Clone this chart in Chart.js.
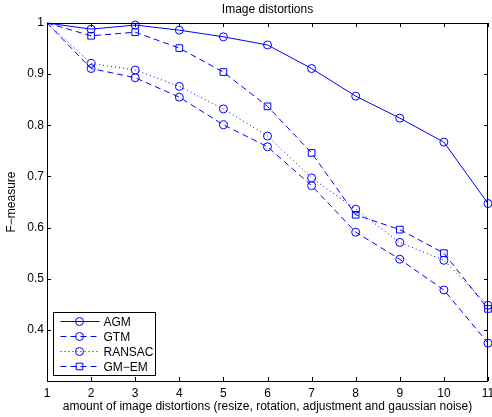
<!DOCTYPE html>
<html><head><meta charset="utf-8">
<script src="https://cdn.jsdelivr.net/npm/chart.js@4.4.1/dist/chart.umd.min.js"></script>
<style>html,body{margin:0;padding:0;background:#fff}</style>
</head><body>
<canvas id="c" width="492" height="417"></canvas>
<script>
const distortions = [1, 2, 3, 4, 5, 6, 7, 8, 9, 10, 11];
const agm    = [1.0, 0.988, 0.996, 0.986, 0.973, 0.957, 0.911, 0.857, 0.814, 0.767, 0.647];
const gtm    = [1.0, 0.911, 0.893, 0.855, 0.801, 0.758, 0.682, 0.591, 0.538, 0.478, 0.374];
const ransac = [1.0, 0.921, 0.908, 0.876, 0.832, 0.779, 0.697, 0.636, 0.571, 0.536, 0.448];
const gmem   = [1.0, 0.975, 0.982, 0.951, 0.904, 0.837, 0.746, 0.625, 0.596, 0.550, 0.441];
const seriesNames = ['AGM', 'GTM', 'RANSAC', 'GM\u2212EM'];
const xTickValues = [1, 2, 3, 4, 5, 6, 7, 8, 9, 10, 11];
const yTickValues = [0.4, 0.5, 0.6, 0.7, 0.8, 0.9, 1];
const yTickLabels = ['0.4', '0.5', '0.6', '0.7', '0.8', '0.9', '1'];
const titleText = 'Image distortions';
const xTitle = 'amount of image distortions (resize, rotation, adjustment and gaussian noise)';
const yTitle = 'F\u2212measure';

const FONT = '"Liberation Sans", Arial, Helvetica, sans-serif';
const BLUE = 'rgb(0,0,255)';

function mk(label, values, dash, style, r) {
  return {
    label: label,
    data: distortions.map((x, i) => ({x: x, y: values[i]})),
    borderColor: BLUE, borderWidth: 1, borderDash: dash,
    pointStyle: style, pointRadius: distortions.map((d, i) => i === 0 ? 0 : r),
    pointBorderColor: BLUE, pointBackgroundColor: 'rgba(0,0,0,0)', pointBorderWidth: 1,
    tension: 0, fill: false, clip: false
  };
}
const datasets = [
  mk(seriesNames[0], agm, [], 'circle', 4),
  mk(seriesNames[1], gtm, [6, 4], 'circle', 4),
  mk(seriesNames[2], ransac, [1, 3], 'circle', 4),
  mk(seriesNames[3], gmem, [6, 4], 'rect', 4.7)
];

const decor = {
  id: 'decor',
  afterDraw(chart) {
    const ctx = chart.ctx, a = chart.chartArea;
    const xs = chart.scales.x, ys = chart.scales.y;
    ctx.save();
    ctx.strokeStyle = '#000'; ctx.lineWidth = 1;
    ctx.strokeRect(Math.round(a.left) + 0.5, Math.round(a.top) + 0.5,
                   Math.round(a.right - a.left) - 1, Math.round(a.bottom - a.top));
    ctx.beginPath();
    xTickValues.forEach(v => {
      const px = Math.round(xs.getPixelForValue(v)) + 0.5;
      ctx.moveTo(px, a.bottom); ctx.lineTo(px, a.bottom - 4);
      ctx.moveTo(px, a.top); ctx.lineTo(px, a.top + 4);
    });
    yTickValues.forEach(v => {
      const py = Math.round(ys.getPixelForValue(v)) + 0.5;
      ctx.moveTo(a.left, py); ctx.lineTo(a.left + 4, py);
      ctx.moveTo(a.right, py); ctx.lineTo(a.right - 4, py);
    });
    ctx.stroke();

    ctx.fillStyle = '#000';
    ctx.font = '12px ' + FONT;
    ctx.textAlign = 'center'; ctx.textBaseline = 'middle';
    ctx.fillText(titleText, (a.left + a.right) / 2, 10);
    ctx.fillText(xTitle, (a.left + a.right) / 2, 407);
    ctx.save();
    ctx.translate(12, (a.top + a.bottom) / 2);
    ctx.rotate(-Math.PI / 2);
    ctx.fillText(yTitle, 0, 0);
    ctx.restore();

    const bx = a.left + 6.5, by = 312.5, bw = 102, bh = 63;
    ctx.fillStyle = '#fff';
    ctx.fillRect(bx, by, bw, bh);
    ctx.strokeStyle = '#000';
    ctx.strokeRect(bx, by, bw, bh);
    ctx.font = '12px ' + FONT;
    ctx.textAlign = 'left';
    chart.data.datasets.forEach((ds, i) => {
      const y = by + 9 + i * 15;
      ctx.strokeStyle = ds.borderColor; ctx.lineWidth = 1;
      ctx.setLineDash(ds.borderDash);
      ctx.beginPath(); ctx.moveTo(bx + 7, y); ctx.lineTo(bx + 46, y); ctx.stroke();
      ctx.setLineDash([]);
      ctx.fillStyle = 'rgba(0,0,0,0)';
      ctx.strokeStyle = ds.borderColor;
      Chart.helpers.drawPoint(ctx, {pointStyle: ds.pointStyle, radius: ds.pointStyle === 'rect' ? 4.7 : 4, borderWidth: 1}, bx + 26, y);
      ctx.fillStyle = '#000';
      ctx.fillText(ds.label, bx + 50, y + 1);
    });
    ctx.restore();
  }
};

new Chart(document.getElementById('c'), {
  type: 'line',
  data: {datasets: datasets},
  options: {
    responsive: false, animation: false, devicePixelRatio: 1,
    layout: {autoPadding: false, padding: {top: 23, right: 4, left: 0, bottom: 0}},
    plugins: {legend: {display: false}, tooltip: {enabled: false}, title: {display: false}},
    scales: {
      x: {
        type: 'linear', min: 1, max: 11,
        grid: {display: false, drawTicks: false}, border: {display: false},
        afterBuildTicks: s => { s.ticks = xTickValues.map(v => ({value: v})); },
        afterFit: s => { s.height = 36; s.paddingLeft = 0; s.paddingRight = 0; },
        ticks: {padding: 5, color: '#000', font: {family: FONT, size: 12}, maxRotation: 0, autoSkip: false,
                callback: v => String(v)}
      },
      y: {
        type: 'linear', min: 0.3, max: 1,
        grid: {display: false, drawTicks: false}, border: {display: false},
        afterBuildTicks: s => { s.ticks = yTickValues.map(v => ({value: v})); },
        afterFit: s => { s.width = 47; s.paddingTop = 0; s.paddingBottom = 0; },
        ticks: {padding: 3, color: '#000', font: {family: FONT, size: 12}, autoSkip: false,
                callback: v => yTickLabels[yTickValues.indexOf(v)]}
      }
    }
  },
  plugins: [decor]
});
</script>
</body></html>
